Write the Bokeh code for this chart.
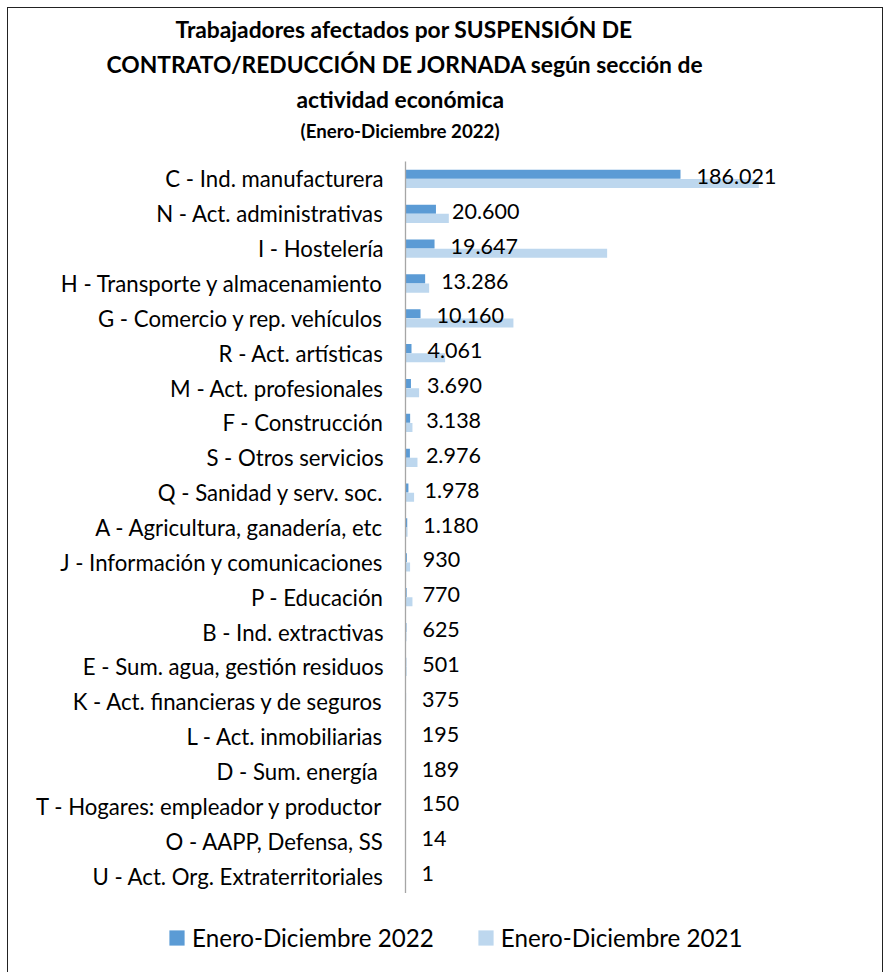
from bokeh.plotting import figure
from bokeh.layouts import column
from bokeh.models import (ColumnDataSource, FactorRange, Range1d, Title, Legend,
                          LegendItem)
from bokeh.transform import dodge
from bokeh.core.properties import value
from bokeh.embed import file_html
from bokeh.resources import INLINE

# ---------------- data ----------------
categories = [
    "C - Ind. manufacturera",
    "N - Act. administrativas",
    "I - Hostelería",
    "H - Transporte y almacenamiento",
    "G - Comercio y rep. vehículos",
    "R - Act. artísticas",
    "M - Act. profesionales",
    "F - Construcción",
    "S - Otros servicios",
    "Q - Sanidad y serv. soc.",
    "A - Agricultura, ganadería, etc",
    "J - Información y comunicaciones",
    "P - Educación",
    "B - Ind. extractivas",
    "E - Sum. agua, gestión residuos",
    "K - Act. financieras y de seguros",
    "L - Act. inmobiliarias",
    "D - Sum. energía ",
    "T - Hogares: empleador y productor",
    "O - AAPP, Defensa, SS",
    "U - Act. Org. Extraterritoriales",
]
values_2022 = [186021, 20600, 19647, 13286, 10160, 4061, 3690, 3138, 2976, 1978,
               1180, 930, 770, 625, 501, 375, 195, 189, 150, 14, 1]
values_2021 = [239000, 29300, 136400, 16000, 73000, 26800, 9200, 4700, 8100, 5800,
               1400, 3100, 4700, 700, 800, 400, 300, 200, 100, 100, 0]
series_names = ["Enero-Diciembre 2022", "Enero-Diciembre 2021"]
title_lines = ["Trabajadores afectados por SUSPENSIÓN DE",
               "CONTRATO/REDUCCIÓN DE JORNADA según sección de",
               "actividad económica"]
subtitle = "(Enero-Diciembre 2022)"

labels_2022 = [f"{v:,}".replace(",", ".") for v in values_2022]

COL22 = "#5B9BD5"
COL21 = "#BDD7EE"
FONT = "Lato"

src = ColumnDataSource(dict(cat=categories, v22=values_2022, v21=values_2021,
                            lab=labels_2022))

W, H, HL = 874, 885, 79
p = figure(width=W, height=H, output_backend="svg", toolbar_location=None,
           y_range=FactorRange(factors=categories[::-1], range_padding=0),
           x_range=Range1d(0, 314545),
           x_axis_location=None, title=None,
           min_border_left=397, min_border_right=12,
           min_border_top=153, min_border_bottom=0)
p.frame_align = False
p.outline_line_color = None
p.xgrid.visible = False
p.ygrid.visible = False
p.background_fill_color = "white"
p.border_fill_color = "white"

r22 = p.hbar(y=dodge("cat", 0.132, range=p.y_range), left=0, right="v22",
             height=0.26, source=src, fill_color=COL22, line_color=None)
r21 = p.hbar(y=dodge("cat", -0.132, range=p.y_range), left=0, right="v21",
             height=0.26, source=src, fill_color=COL21, line_color=None)

p.text(x="v22", y=dodge("cat", 0.07, range=p.y_range), text="lab", source=src,
       x_offset=16, text_align="left", text_baseline="middle",
       text_font=value(FONT), text_font_size="21.5px", text_color="black")

ax = p.yaxis[0]
ax.axis_line_color = "#A6A6A6"
ax.axis_line_width = 1.3
ax.major_tick_line_color = None
ax.minor_tick_line_color = None
ax.major_tick_out = 0
ax.major_tick_in = 0
ax.major_label_standoff = 22
ax.major_label_text_font = FONT
ax.major_label_text_font_size = "22.2px"
ax.major_label_text_color = "black"

# titles: first added is closest to the frame
p.add_layout(Title(text=subtitle, align="left", offset=-105, standoff=39,
                   text_font=FONT, text_font_style="bold",
                   text_font_size="18.7px", text_color="black"), "above")
for line, off, so in zip(title_lines[::-1], [-109, -299, -230], [-28.5, 38, -29.5]):
    p.add_layout(Title(text=line, align="left", offset=off, standoff=so,
                       text_font=FONT, text_font_style="bold",
                       text_font_size="22.8px", text_color="black"), "above")

# legend strip below the chart (its key renderers lie outside its visible range)
p2 = figure(width=W, height=HL, output_backend="svg", toolbar_location=None,
            x_range=Range1d(-2, -1), y_range=FactorRange(factors=categories),
            x_axis_location=None, y_axis_location=None,
            min_border_left=0, min_border_right=0, min_border_top=0,
            min_border_bottom=0)
p2.frame_align = False
p2.outline_line_color = None
p2.xgrid.visible = False
p2.ygrid.visible = False
p2.background_fill_color = "white"
p2.border_fill_color = "white"
g22 = p2.hbar(y="cat", left=0, right="v22", height=0.26, source=src,
              fill_color=COL22, line_color=None)
g21 = p2.hbar(y="cat", left=0, right="v21", height=0.26, source=src,
              fill_color=COL21, line_color=None)

legend = Legend(items=[LegendItem(label=series_names[0], renderers=[g22]),
                       LegendItem(label=series_names[1], renderers=[g21])],
                orientation="horizontal", location=(159, 20),
                glyph_width=19, glyph_height=19, label_standoff=6, spacing=42,
                padding=0, margin=0, border_line_color=None,
                background_fill_alpha=0,
                label_text_font=FONT, label_text_font_size="24.2px",
                label_text_color="black")
p2.add_layout(legend)

layout = column(p, p2, spacing=0)
layout.margin = (8, 0, 0, 8)
layout.styles = {"outline": "1px solid #222222"}

open("out.html", "w").write(file_html(layout, INLINE))
